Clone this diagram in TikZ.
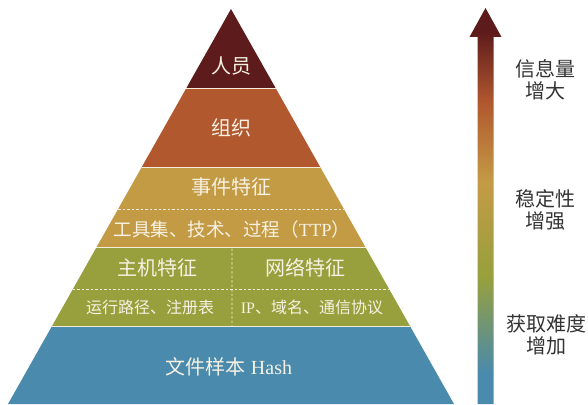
\documentclass[tikz,border=0pt]{standalone}
\usepackage{fontspec}
\setmainfont{Liberation Serif}
\newfontfamily\cjk{Noto Sans CJK SC}
\usetikzlibrary{calc}
\definecolor{cRed}{HTML}{5E1B1B}
\definecolor{cOrange}{HTML}{B1582F}
\definecolor{cGold}{HTML}{C49B45}
\definecolor{cGreen}{HTML}{97A03C}
\definecolor{cBlue}{HTML}{4A8AAC}
\definecolor{cText}{HTML}{F6F1E3}
\definecolor{cSep}{HTML}{F3EEDC}
\definecolor{cLabel}{HTML}{333333}
\pgfdeclareverticalshading{arrowshade}{100bp}{%
  color(0bp)=(cBlue); color(29bp)=(cBlue); color(41bp)=(cGreen);
  color(53bp)=(cGold); color(63bp)=(cOrange); color(72bp)=(cRed);
  color(100bp)=(cRed)}
\tikzset{
  band/.style={draw=none},
  sepline/.style={draw=cSep, line width=1.3pt},
  dashsep/.style={draw=cSep, line width=0.7pt, dash pattern=on 2.5pt off 2pt},
  mainlbl/.style={text=cText, inner sep=0pt, font=\fontsize{20}{22}\selectfont},
  sublbl/.style={text=cText, inner sep=0pt, font=\fontsize{16}{18}\selectfont},
  ttplbl/.style={text=cText, inner sep=0pt, font=\fontsize{18.5}{20}\selectfont},
  sidelbl/.style={text=cLabel, inner sep=0pt, align=center, font=\cjk\fontsize{20}{22}\selectfont}
}
\begin{document}
\begin{tikzpicture}[x=1pt,y=-1pt]
\useasboundingbox (0,0) rectangle (588,404);
% pyramid geometry
\coordinate (A) at (231,9);
\coordinate (BL) at (8,404);
\coordinate (BR) at (454,404);
\foreach \n/\f in {1/0.2013,2/0.4013,3/0.6038,4/0.8038,d1/0.5063,d2/0.7089}{
  \coordinate (L\n) at ($(A)!\f!(BL)$);
  \coordinate (R\n) at ($(A)!\f!(BR)$);
}
% bands
\fill[band, cRed] (A) -- (R1) -- (L1) -- cycle;
\fill[band, cOrange] (L1) -- (R1) -- (R2) -- (L2) -- cycle;
\fill[band, cGold] (L2) -- (R2) -- (R3) -- (L3) -- cycle;
\fill[band, cGreen] (L3) -- (R3) -- (R4) -- (L4) -- cycle;
\fill[band, cBlue] (L4) -- (R4) -- (BR) -- (BL) -- cycle;
% separators
\draw[sepline] (L1) -- (R1);
\draw[sepline] (L2) -- (R2);
\draw[sepline] (L3) -- (R3);
\draw[sepline] (L4) -- (R4);
\draw[dashsep] (Ld1) -- (Rd1);
\draw[dashsep] (Ld2) -- (Rd2);
\coordinate (V1) at ($(L3)!0.5!(R3)+(1,1)$);
\coordinate (V2) at ($(L4)!0.5!(R4)+(1,-1)$);
\draw[dashsep] (V1) -- (V2);
% labels
\node[mainlbl] (renyuan) at (231,66) {\cjk 人员};
\node[mainlbl] (zuzhi) at (231,128) {\cjk 组织};
\node[mainlbl] (shijian) at (231,187) {\cjk 事件特征};
\node[ttplbl] (ttp) at (232,229) {{\cjk 工具集、技术、过程（}TTP{\cjk ）}};
\node[mainlbl] (zhuji) at (157,268) {\cjk 主机特征};
\node[mainlbl] (wangluo) at (305,268) {\cjk 网络特征};
\node[sublbl] (yunxing) at (150,307) {\cjk 运行路径、注册表};
\node[sublbl] (ip) at (312,307) {IP{\cjk 、域名、通信协议}};
\node[mainlbl] (hash) at (229,367) {{\cjk 文件样本} Hash};
% gradient arrow
\coordinate (T) at (485.5,8);
\shade[shading=arrowshade] (T) -- (501.5,37) -- (493.5,37) -- (493.5,404)
  -- (477.5,404) -- (477.5,37) -- (469.5,37) -- cycle;
% side labels
\node[sidelbl] (info) at (545,80) {信息量\\增大};
\node[sidelbl] (stab) at (545,210) {稳定性\\增强};
\node[sidelbl] (diff) at (546,335) {获取难度\\增加};
\end{tikzpicture}
\end{document}
